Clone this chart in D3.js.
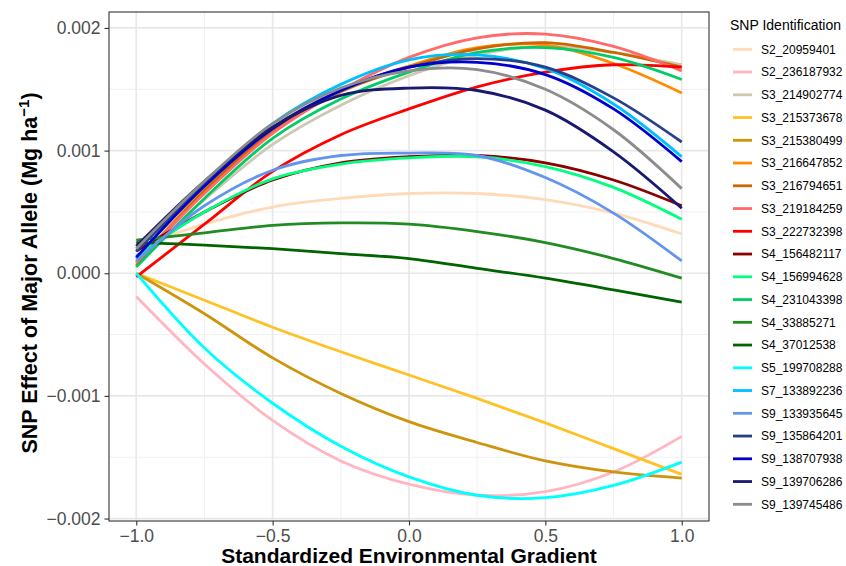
<!DOCTYPE html>
<html>
<head>
<meta charset="utf-8">
<script src="https://d3js.org/d3.v7.min.js"></script>
<style>
body { margin: 0; background: #fff; }
text { font-family: "Liberation Sans", Arial, sans-serif; }
</style>
</head>
<body>
<script>
var w = 846, h = 566;
// panel edges (note: "top" is taken by window.top)
var pLeft = 109, pRight = 709, pTop = 12, pBottom = 521;

var xGrid = [-1, -0.75, -0.5, -0.25, 0, 0.25, 0.5, 0.75, 1];

var snpIds = ["S2_20959401", "S2_236187932", "S3_214902774", "S3_215373678", "S3_215380499",
  "S3_216647852", "S3_216794651", "S3_219184259", "S3_222732398", "S4_156482117",
  "S4_156994628", "S4_231043398", "S4_33885271", "S4_37012538", "S5_199708288",
  "S7_133892236", "S9_133935645", "S9_135864201", "S9_138707938", "S9_139706286",
  "S9_139745486"];

var snpColors = ["#FFDAB9", "#FFB6C1", "#CDC8B1", "#FFC125", "#CD950C",
  "#FF8C00", "#CD6600", "#FF6A6A", "#FF0000", "#8B0000",
  "#00FF7F", "#00CD66", "#228B22", "#006400", "#00FFFF",
  "#00BFFF", "#6495ED", "#27408B", "#0000CD", "#191970",
  "#8C8C8C"];

var snpEffects = [
  [0.00021, 0.00040, 0.00054, 0.00061, 0.00065, 0.00065, 0.00060, 0.00049, 0.00032],
  [-0.00019, -0.00074, -0.00120, -0.00153, -0.00172, -0.00181, -0.00178, -0.00162, -0.00133],
  [0.00011, 0.00060, 0.00105, 0.00137, 0.00161, 0.00178, 0.00185, 0.00180, 0.00170],
  [0.00000, -0.00022, -0.00044, -0.00064, -0.00083, -0.00102, -0.00122, -0.00143, -0.00164],
  [0.00000, -0.00033, -0.00069, -0.00098, -0.00121, -0.00138, -0.00153, -0.00162, -0.00167],
  [0.00008, 0.00068, 0.00117, 0.00149, 0.00169, 0.00184, 0.00186, 0.00171, 0.00147],
  [0.00006, 0.00067, 0.00116, 0.00148, 0.00168, 0.00183, 0.00188, 0.00180, 0.00168],
  [0.00009, 0.00065, 0.00114, 0.00149, 0.00176, 0.00192, 0.00195, 0.00185, 0.00165],
  [-0.00003, 0.00040, 0.00083, 0.00113, 0.00134, 0.00152, 0.00164, 0.00170, 0.00168],
  [0.00018, 0.00050, 0.00076, 0.00090, 0.00095, 0.00096, 0.00090, 0.00076, 0.00055],
  [0.00014, 0.00050, 0.00077, 0.00089, 0.00094, 0.00095, 0.00087, 0.00070, 0.00044],
  [0.00005, 0.00061, 0.00110, 0.00142, 0.00164, 0.00180, 0.00184, 0.00176, 0.00158],
  [0.00027, 0.00033, 0.00039, 0.00041, 0.00040, 0.00034, 0.00025, 0.00012, -0.00004],
  [0.00025, 0.00023, 0.00020, 0.00016, 0.00012, 0.00004, -0.00004, -0.000135, -0.000235],
  [0.00000, -0.00061, -0.00106, -0.00141, -0.00166, -0.00181, -0.00183, -0.00173, -0.00154],
  [0.00012, 0.00073, 0.00122, 0.00154, 0.00174, 0.00178, 0.00167, 0.00138, 0.00095],
  [0.00010, 0.00055, 0.00084, 0.00096, 0.00098, 0.00096, 0.00078, 0.00049, 0.00010],
  [0.00018, 0.00072, 0.00119, 0.00149, 0.00168, 0.00175, 0.00168, 0.00143, 0.00107],
  [0.00013, 0.00071, 0.00118, 0.00149, 0.00168, 0.00172, 0.00162, 0.00134, 0.00091],
  [0.00022, 0.00075, 0.00119, 0.00145, 0.00151, 0.00149, 0.00133, 0.00099, 0.00053],
  [0.00020, 0.00075, 0.00122, 0.00151, 0.00165, 0.00166, 0.00150, 0.00117, 0.00069]
];

var xTicks = [-1, -0.5, 0, 0.5, 1];
var xMinor = [-0.75, -0.25, 0.25, 0.75];
var yTicks = [-0.002, -0.001, 0, 0.001, 0.002];
var yMinor = [-0.0015, -0.0005, 0.0005, 0.0015];

var svg = d3.select("body").append("svg")
  .attr("width", w)
  .attr("height", h);

svg.append("rect").attr("width", w).attr("height", h).attr("fill", "#fff");

var x = d3.scaleLinear().domain([-1.1, 1.1]).range([pLeft, pRight]);
var y = d3.scaleLinear().domain([-0.00202, 0.00213]).range([pBottom, pTop]);

// grid
var grid = svg.append("g");
grid.selectAll(".vminor").data(xMinor).enter().append("line")
  .attr("x1", d => x(d)).attr("x2", d => x(d))
  .attr("y1", pTop).attr("y2", pBottom)
  .attr("stroke", "#F0F0F0").attr("stroke-width", 1);
grid.selectAll(".hminor").data(yMinor).enter().append("line")
  .attr("x1", pLeft).attr("x2", pRight)
  .attr("y1", d => y(d)).attr("y2", d => y(d))
  .attr("stroke", "#F0F0F0").attr("stroke-width", 1);
grid.selectAll(".vmajor").data(xTicks).enter().append("line")
  .attr("x1", d => x(d)).attr("x2", d => x(d))
  .attr("y1", pTop).attr("y2", pBottom)
  .attr("stroke", "#E8E8E8").attr("stroke-width", 1.7);
grid.selectAll(".hmajor").data(yTicks).enter().append("line")
  .attr("x1", pLeft).attr("x2", pRight)
  .attr("y1", d => y(d)).attr("y2", d => y(d))
  .attr("stroke", "#E8E8E8").attr("stroke-width", 1.7);

// curves, drawn in legend order so later ones sit on top
var line = d3.line()
  .x((d, i) => x(xGrid[i]))
  .y(d => y(d))
  .curve(d3.curveCatmullRom.alpha(0.5));

svg.append("g").selectAll("path")
  .data(snpEffects)
  .enter().append("path")
  .attr("d", d => line(d))
  .attr("fill", "none")
  .attr("stroke", (d, i) => snpColors[i])
  .attr("stroke-width", 2.8)
  .attr("stroke-linecap", "butt");

// panel border
svg.append("rect")
  .attr("x", pLeft).attr("y", pTop)
  .attr("width", pRight - pLeft).attr("height", pBottom - pTop)
  .attr("fill", "none").attr("stroke", "#333333").attr("stroke-width", 1.1);

// axes
var xAxis = svg.append("g")
  .attr("transform", "translate(0," + pBottom + ")")
  .call(d3.axisBottom(x).tickValues(xTicks).tickFormat(d3.format(".1f")).tickSize(4.5).tickPadding(4));
var yAxis = svg.append("g")
  .attr("transform", "translate(" + pLeft + ",0)")
  .call(d3.axisLeft(y).tickValues(yTicks).tickFormat(d3.format(".3f")).tickSize(4.5).tickPadding(4));

[xAxis, yAxis].forEach(function(a) {
  a.select(".domain").remove();
  a.selectAll("line").attr("stroke", "#333333").attr("stroke-width", 1.1);
  a.selectAll("text")
    .attr("fill", "#4D4D4D")
    .style("font-size", "17.5px")
    .style("font-family", "'Liberation Sans', Arial, sans-serif");
});

// axis titles
svg.append("text")
  .attr("x", (pLeft + pRight) / 2)
  .attr("y", 563)
  .attr("text-anchor", "middle")
  .style("font-size", "21px")
  .style("font-weight", "bold")
  .text("Standardized Environmental Gradient");

var yt = svg.append("text")
  .attr("transform", "translate(37,273) rotate(-90)")
  .attr("text-anchor", "middle")
  .style("font-size", "21.5px")
  .style("font-weight", "bold");
yt.append("tspan").text("SNP Effect of Major Allele (Mg ha");
yt.append("tspan").attr("dy", -8).style("font-size", "15px").text("\u22121");
yt.append("tspan").attr("dy", 8).text(")");

// legend
var lg = svg.append("g").attr("transform", "translate(730,0)");
lg.append("text")
  .attr("x", 0).attr("y", 30)
  .style("font-size", "14px")
  .attr("fill", "#000")
  .text("SNP Identification");

var item = lg.selectAll(".item")
  .data(snpIds)
  .enter().append("g")
  .attr("transform", (d, i) => "translate(0," + (49.3 + i * 22.75) + ")");
item.append("line")
  .attr("x1", 3).attr("x2", 22)
  .attr("y1", 0).attr("y2", 0)
  .attr("stroke", (d, i) => snpColors[i])
  .attr("stroke-width", 2.8);
item.append("text")
  .attr("x", 31).attr("y", 4.3)
  .style("font-size", "12px")
  .attr("fill", "#000")
  .text(d => d);
</script>
</body>
</html>
